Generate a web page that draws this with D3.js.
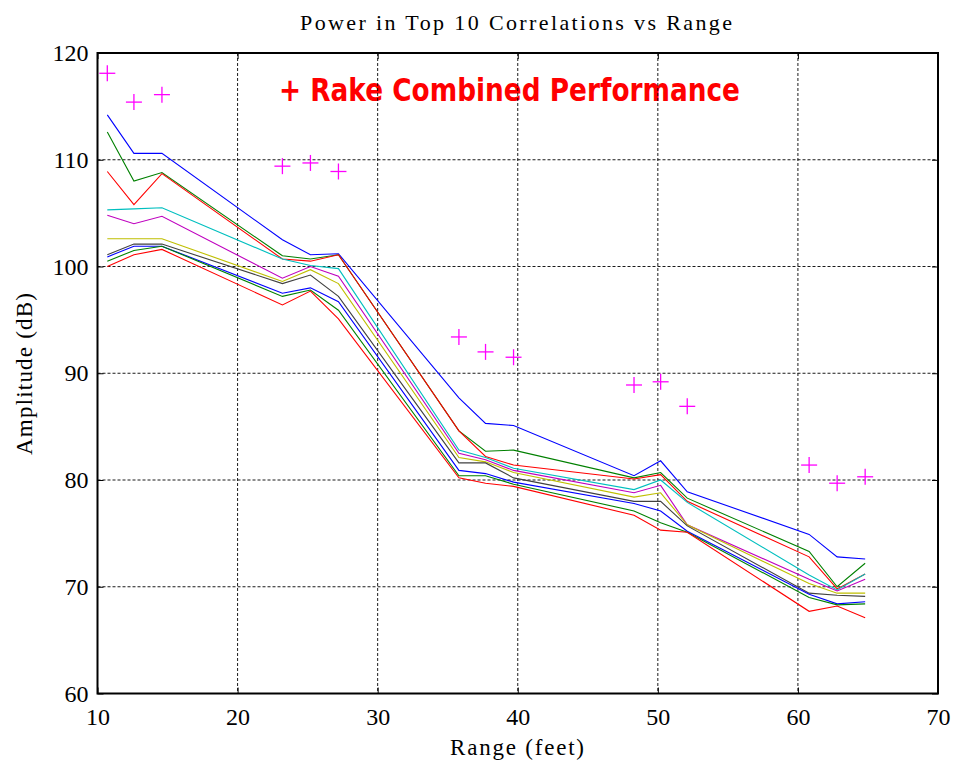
<!DOCTYPE html>
<html>
<head>
<meta charset="utf-8">
<script src="https://cdn.jsdelivr.net/npm/d3@7"></script>
<style>
  html, body { margin: 0; padding: 0; background: #fff; }
  svg { display: block; }
</style>
</head>
<body>
<script>
// ---------- DATA ----------
const ranges = [10.7, 12.6, 14.6, 23.2, 25.2, 27.2, 35.8, 37.7, 39.7, 48.3, 50.2, 52.1, 60.8, 62.8, 64.8];

const corr1  = [114.2, 110.6, 110.6, 102.5, 101.1, 101.2, 87.7, 85.3, 85.1, 80.4, 81.8, 78.9, 74.9, 72.8, 72.6];
const corr2  = [112.6, 108.0, 108.8, 101.0, 100.7, 101.1, 84.6, 82.7, 82.8, 80.2, 80.7, 78.3, 73.3, 70.0, 72.2];
const corr3  = [108.9, 105.8, 108.7, 100.7, 100.5, 101.1, 84.6, 82.2, 81.4, 80.1, 80.5, 78.0, 72.8, 69.8, 71.2];
const corr4  = [105.3, 105.4, 105.5, 100.7, 100.1, 99.8, 82.8, 82.1, 81.1, 79.1, 80.0, 77.9, 71.1, 69.7, 71.2];
const corr5  = [104.8, 104.0, 104.7, 98.9, 100.0, 99.1, 82.5, 81.9, 80.9, 78.8, 79.5, 75.8, 70.7, 69.6, 70.7];
const corr6  = [102.6, 102.6, 102.6, 98.6, 99.7, 98.4, 82.1, 81.7, 80.7, 78.4, 78.8, 75.8, 70.3, 69.4, 69.4];
const corr7  = [101.1, 102.1, 102.1, 98.4, 99.2, 97.2, 81.6, 81.6, 80.2, 78.0, 78.0, 75.7, 69.4, 69.2, 69.1];
const corr8  = [100.9, 101.9, 101.9, 97.5, 98.0, 96.7, 80.9, 80.6, 79.8, 77.8, 77.1, 75.2, 69.3, 68.4, 68.6];
const corr9  = [100.5, 101.5, 101.9, 97.2, 97.8, 95.9, 80.4, 80.4, 79.6, 77.1, 76.0, 75.1, 69.0, 68.3, 68.4];
const corr10 = [100.0, 101.1, 101.6, 96.4, 97.7, 95.1, 80.2, 79.7, 79.4, 76.7, 75.3, 75.1, 67.7, 68.2, 67.1];

const rake = [118.1, 115.4, 116.1, 109.4, 109.7, 108.9, 93.4, 92.0, 91.5, 88.9, 89.2, 86.9, 81.4, 79.7, 80.3];

const xTicks = [10, 20, 30, 40, 50, 60, 70];
const yTicks = [60, 70, 80, 90, 100, 110, 120];

const seriesList = [corr1, corr2, corr3, corr4, corr5, corr6, corr7, corr8, corr9, corr10];
const seriesColors = ["#0000ff", "#008000", "#ff0000", "#00bfbf", "#bf00bf", "#bfbf00", "#404040", "#0000ff", "#008000", "#ff0000"];

const titleText = "Power in Top 10 Correlations vs Range";
const xLabel = "Range (feet)";
const yLabel = "Amplitude (dB)";
const annotation = "+ Rake Combined Performance";

// ---------- LAYOUT ----------
(function () {
const W = 956, H = 761;
const pL = 97.5, pR = 938, pT = 53, pB = 693.5;

const svg = d3.select("body").append("svg").attr("width", W).attr("height", H)
  .style("background", "#fff");
svg.append("rect").attr("width", W).attr("height", H).attr("fill", "#fff");

const x = d3.scaleLinear().domain([10, 70]).range([pL, pR]);
const y = d3.scaleLinear().domain([60, 120]).range([pB, pT]);

const serif = "'Liberation Serif', 'Times New Roman', serif";

// annotation text (under grid)
svg.append("text")
  .attr("x", 279).attr("y", 101)
  .attr("font-family", "'DejaVu Sans', sans-serif")
  .attr("font-weight", "bold")
  .attr("font-size", 32)
  .attr("fill", "#ff0000")
  .attr("textLength", 461)
  .attr("lengthAdjust", "spacingAndGlyphs")
  .text(annotation);

// grid
const grid = svg.append("g").attr("stroke", "#000").attr("stroke-width", 0.9)
  .attr("stroke-dasharray", "3,2");
grid.selectAll("line.gx").data(xTicks.slice(1, -1)).enter().append("line")
  .attr("x1", d => x(d)).attr("x2", d => x(d)).attr("y1", pT).attr("y2", pB);
grid.selectAll("line.gy").data(yTicks.slice(1, -1)).enter().append("line")
  .attr("y1", d => y(d)).attr("y2", d => y(d)).attr("x1", pL).attr("x2", pR);

// lines
const line = d3.line().x((d, i) => x(ranges[i])).y(d => y(d));
svg.append("g").selectAll("path").data(seriesList).enter().append("path")
  .attr("d", d => line(d))
  .attr("fill", "none")
  .attr("stroke", (d, i) => seriesColors[i])
  .attr("stroke-width", 1.1);

// plus markers
const mk = svg.append("g").attr("stroke", "#ff00ff").attr("stroke-width", 1.3);
rake.forEach((v, i) => {
  const cx = x(ranges[i]), cy = y(v), s = 8;
  mk.append("line").attr("x1", cx - s).attr("x2", cx + s).attr("y1", cy).attr("y2", cy);
  mk.append("line").attr("x1", cx).attr("x2", cx).attr("y1", cy - s).attr("y2", cy + s);
});

// axes
const xAxis = svg.append("g").attr("transform", `translate(0,${pB})`)
  .call(d3.axisBottom(x).tickValues(xTicks).tickSize(-6).tickPadding(14).tickFormat(d3.format("d")));
const yAxis = svg.append("g").attr("transform", `translate(${pL},0)`)
  .call(d3.axisLeft(y).tickValues(yTicks).tickSize(-6).tickPadding(9).tickFormat(d3.format("d")));
const xAxisTop = svg.append("g").attr("transform", `translate(0,${pT})`)
  .call(d3.axisTop(x).tickValues(xTicks).tickSize(-6).tickFormat(""));
const yAxisRight = svg.append("g").attr("transform", `translate(${pR},0)`)
  .call(d3.axisRight(y).tickValues(yTicks).tickSize(-6).tickFormat(""));

[xAxis, yAxis, xAxisTop, yAxisRight].forEach(g => {
  g.select(".domain").remove();
  g.selectAll("line").attr("stroke", "#000").attr("stroke-width", 1);
  g.selectAll("text").attr("font-family", serif).attr("font-size", 24).attr("fill", "#000");
});

// frame
svg.append("rect").attr("x", pL).attr("y", pT)
  .attr("width", pR - pL).attr("height", pB - pT)
  .attr("fill", "none").attr("stroke", "#000").attr("stroke-width", 2);

// title & labels
svg.append("text").attr("x", 516).attr("y", 30)
  .attr("text-anchor", "middle").attr("font-family", serif).attr("font-size", 22)
  .attr("textLength", 432).attr("lengthAdjust", "spacing")
  .text(titleText);

svg.append("text").attr("x", 517).attr("y", 755)
  .attr("text-anchor", "middle").attr("font-family", serif).attr("font-size", 23)
  .attr("textLength", 134).attr("lengthAdjust", "spacing")
  .text(xLabel);

svg.append("text").attr("transform", "translate(32,374) rotate(-90)")
  .attr("text-anchor", "middle").attr("font-family", serif).attr("font-size", 23)
  .attr("textLength", 162).attr("lengthAdjust", "spacing")
  .text(yLabel);
})();
</script>
</body>
</html>
